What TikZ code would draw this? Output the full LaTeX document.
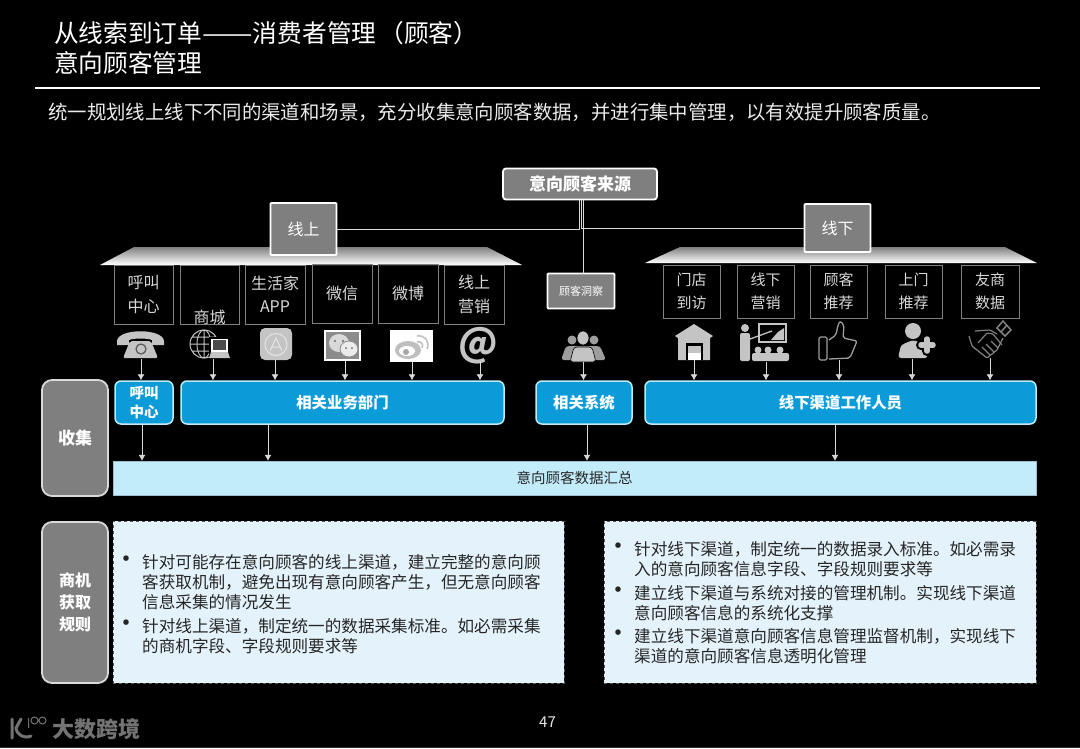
\documentclass[tikz,border=0pt]{standalone}
\usepackage{fontspec}
\setmainfont{Noto Sans CJK SC}
\usetikzlibrary{arrows,arrows.meta,calc}
\tikzset{>=latex}
\definecolor{slategrey}{HTML}{7F7F7F}
\definecolor{deptblue}{HTML}{0A9BD8}
\definecolor{deptedge}{HTML}{BDEBF7}
\definecolor{bandblue}{HTML}{C3ECFB}
\definecolor{noteblue}{HTML}{E4F3FB}
\definecolor{icongrey}{HTML}{C4C4C4}
\definecolor{chantext}{HTML}{D8D8D8}
\tikzset{
  sourcebox/.style={draw=white, line width=1.8pt, fill=slategrey, rounded corners=3pt, text=white, inner sep=0pt},
  sidebox/.style={draw=white!85!black, line width=1.8pt, fill=slategrey, rounded corners=10pt, text=white, inner sep=0pt, align=center},
  chanbox/.style={draw=white!50!black, line width=0.7pt, text=chantext, inner sep=0pt, align=center},
  deptbox/.style={draw=deptedge, line width=1.5pt, fill=deptblue, rounded corners=6pt, text=white, inner sep=0pt, align=center},
  notebox/.style={draw=black!65, dashed, line width=0.7pt, fill=noteblue, inner sep=0pt},
  notetext/.style={anchor=north west, align=left, inner sep=0pt, text=black!85},
  linkline/.style={draw=white!85!black, line width=0.8pt},
  linkarrow/.style={linkline, -{Latex[length=6pt,width=7pt]}}
}
\newcommand{\notebullet}[3]{
   \node[text=black!85, inner sep=0pt, font=\fontsize{26}{26}\selectfont] (#1) at ($(#2)+(0,8)$) {•};
   \node[notetext, font=\fontsize{16.6}{20}\selectfont] (#1text) at ($(#2)+(16,0)$) {#3};
}

\begin{document}
\begin{tikzpicture}[x=1pt,y=-1pt]
	\fill[black] (0,0) rectangle (1080,748);
	\useasboundingbox (0,0) rectangle (1080,748);
	\fill[black!80] (0,746.5) rectangle (1080,748);

	% Heading
	\node[anchor=west, text=white, inner sep=0pt, font=\fontsize{24.7}{25}\selectfont] (titleone) at (54,33) {从线索到订单\scalebox{1.22}[1]{——}消费者管理\hspace{3pt}（顾客）};
	\node[anchor=west, text=white, inner sep=0pt, font=\fontsize{24.7}{25}\selectfont] (titletwo) at (54,63) {意向顾客管理};
	\draw[white, line width=1.2pt] (35,88) -- (1040,88);
	\node[anchor=west, text=white!92!black, inner sep=0pt, font=\fontsize{19.4}{20}\selectfont] (subtitle) at (48,112) {统一规划线上线下不同的渠道和场景，充分收集意向顾客数据，并进行集中管理，以有效提升顾客质量。};

	% Roofs
	\shade[top color=black!50, bottom color=white] (100,265) -- (134,247) -- (487,247) -- (522,265) -- cycle;
	\shade[top color=black!50, bottom color=white] (645,263) -- (680,247) -- (1005,247) -- (1037,263) -- cycle;

	% Sources
	\node[sourcebox, minimum width=154pt, minimum height=31pt, font=\fontsize{17}{20}\selectfont\bfseries] (source) at (580,184) {意向顾客来源};
	\node[sourcebox, rounded corners=1pt, minimum width=66pt, minimum height=52pt, font=\fontsize{16}{20}\selectfont] (online) at (303.5,229) {线上};
	\node[sourcebox, rounded corners=1pt, minimum width=66pt, minimum height=48pt, font=\fontsize{16}{20}\selectfont] (offline) at (837.5,228) {线下};
	\node[sourcebox, rounded corners=1pt, minimum width=67pt, minimum height=35pt, font=\fontsize{11}{13}\selectfont] (insight) at (581,291) {顾客洞察};

	% Channels, online
	\node[chanbox, minimum width=59pt, minimum height=59pt, font=\fontsize{16}{23.5}\selectfont] (callchan) at (143.5,294.5) {呼叫\\中心};
	\node[chanbox, minimum width=59pt, minimum height=59pt] (mallchan) at (209.5,294.5) {};
	\node[text=chantext, inner sep=0pt, font=\fontsize{16}{20}\selectfont] (malltext) at (209.5,317) {商城};
	\node[chanbox, minimum width=60pt, minimum height=59pt, font=\fontsize{16}{23}\selectfont] (appchan) at (275,294.5) {生活家\\APP};
	\node[chanbox, minimum width=60pt, minimum height=59pt, font=\fontsize{16}{20}\selectfont] (wechatchan) at (342,293.5) {微信};
	\node[chanbox, minimum width=60pt, minimum height=59pt, font=\fontsize{16}{20}\selectfont] (weibochan) at (408,293.5) {微博};
	\node[chanbox, minimum width=60pt, minimum height=59pt, font=\fontsize{16}{23.5}\selectfont] (webchan) at (474,294.5) {线上\\营销};

	% Channels, offline
	\node[chanbox, minimum width=57pt, minimum height=53pt, font=\fontsize{15}{23}\selectfont] (storechan) at (691.5,291.5) {门店\\到访};
	\node[chanbox, minimum width=57pt, minimum height=53pt, font=\fontsize{15}{23}\selectfont] (eventchan) at (765.5,291.5) {线下\\营销};
	\node[chanbox, minimum width=57pt, minimum height=53pt, font=\fontsize{15}{23}\selectfont] (referchan) at (838.5,291.5) {顾客\\推荐};
	\node[chanbox, minimum width=57pt, minimum height=53pt, font=\fontsize{15}{23}\selectfont] (visitchan) at (913.5,291.5) {上门\\推荐};
	\node[chanbox, minimum width=58pt, minimum height=53pt, font=\fontsize{15}{23}\selectfont] (partnerchan) at (990,291.5) {友商\\数据};

	% Departments
	\node[deptbox, minimum width=58pt, minimum height=43pt, font=\fontsize{14.5}{19}\selectfont\bfseries] (calldept) at (144,402.5) {呼叫\\中心};
	\node[deptbox, minimum width=323pt, minimum height=43pt, font=\fontsize{15.4}{19}\selectfont\bfseries] (bizdept) at (342.5,402.5) {相关业务部门};
	\node[deptbox, minimum width=96pt, minimum height=43pt, font=\fontsize{15.4}{19}\selectfont\bfseries] (sysdept) at (584,402.5) {相关系统};
	\node[deptbox, minimum width=391pt, minimum height=43pt, font=\fontsize{15.4}{19}\selectfont\bfseries] (staffdept) at (840.5,402.5) {线下渠道工作人员};

	% Side labels
	\node[sidebox, minimum width=66pt, minimum height=116pt, font=\fontsize{17}{20}\selectfont\bfseries] (collect) at (75,438) {收集};
	\node[sidebox, minimum width=66pt, minimum height=161pt, font=\fontsize{16}{22}\selectfont\bfseries] (rules) at (75,602.5) {商机\\获取\\规则};

	% Band and notes
	\node[fill=bandblue, draw=bandblue!80!black, line width=0.4pt, minimum width=923pt, minimum height=34pt, inner sep=0pt, text=black!85, font=\fontsize{14.5}{16}\selectfont] (band) at (574.5,478) {意向顾客数据汇总};
	\node[notebox, minimum width=451pt, minimum height=162pt] (noteleft) at (338.5,602) {};
	\node[notebox, minimum width=432pt, minimum height=162pt] (noteright) at (820,602) {};

	\notebullet{leftone}{126,554}{针对可能存在意向顾客的线上渠道，建立完整的意向顾\\客获取机制，避免出现有意向顾客产生，但无意向顾客\\信息采集的情况发生}
	\notebullet{lefttwo}{126,618}{针对线上渠道，制定统一的数据采集标准。如必需采集\\的商机字段、字段规则要求等}
	\notebullet{rightone}{618,541.5}{针对线下渠道，制定统一的数据录入标准。如必需录\\入的意向顾客信息字段、字段规则要求等}
	\notebullet{righttwo}{618,585.5}{建立线下渠道与系统对接的管理机制。实现线下渠道\\意向顾客信息的系统化支撑}
	\notebullet{rightthree}{618,628.5}{建立线下渠道意向顾客信息管理监督机制，实现线下\\渠道的意向顾客信息透明化管理}

	% Icons: telephone
	\fill[icongrey] (117,341) .. controls (118,328) and (163,328) .. (164,341) -- (164,345) -- (152,345) -- (152,340) .. controls (148,338) and (133,338) .. (129,340) -- (129,345) -- (117,345) -- cycle;
	\fill[icongrey, rounded corners=2pt] (130,341) -- (151,341) -- (158,358) -- (123,358) -- cycle;
	\draw[black!65, line width=1.2pt] (141,349) circle (5pt);
	% globe and laptop
	\draw[icongrey, line width=1pt] (204,344) circle (14pt) (204,330) -- (204,358) (190,344) -- (218,344) (192,337) -- (216,337) (192,351) -- (216,351);
	\draw[icongrey, line width=0.9pt] (204,344) ellipse (7pt and 14pt);
	\fill[black] (209,337) rectangle (231,359);
	\draw[white, line width=1.2pt, fill=black!70] (212,339.5) rectangle (227,351);
	\fill[icongrey] (211,352) -- (228,352) -- (230,358) -- (209,358) -- cycle;
	% app store
	\fill[icongrey, rounded corners=5pt] (260,328) rectangle (292,360);
	\draw[white!90!black, line width=1pt] (276,344.5) circle (11pt) (270,351) -- (276,338) -- (282,351) (272,347) -- (280,347);
	% wechat
	\fill[white] (324,330) rectangle (361,361);
	\fill[black!45] (326,332) rectangle (359,359);
	\fill[white!85!black] (339,343) ellipse (10pt and 9pt);
	\draw[black!45, fill=white!92!black, line width=0.8pt] (349,349) ellipse (9pt and 8pt);
	\fill[black!60] (335,341) circle (1.2pt) (343,341) circle (1.2pt) (346,348) circle (1pt) (352,348) circle (1pt);
	% weibo
	\fill[white] (390,330) rectangle (433,362);
	\fill[black!25] (408,350) ellipse (13pt and 9pt);
	\fill[white] (407,351) ellipse (8pt and 5pt);
	\fill[black!35] (406,352) circle (3pt);
	\draw[black!25, line width=1.5pt] (417,336) .. controls (425,335) and (430,341) .. (427,349) (417,342) .. controls (421,341) and (424,344) .. (422,348);
	% at sign
	\node[text=icongrey, inner sep=0pt, font=\fontsize{38}{38}\selectfont\bfseries] (atsign) at (478.5,346) {@};
	% audience
	\fill[icongrey!80!black] (572,340) circle (4.5pt) (594,340) circle (4.5pt);
	\fill[icongrey!80!black, rounded corners=3pt] (561,360) -- (566,346) -- (600,346) -- (606,360) -- cycle;
	\draw[black, line width=0.6pt, fill=icongrey] (583,338) ellipse (6pt and 7pt);
	\draw[black, line width=0.6pt, fill=icongrey, rounded corners=3pt] (570,362) -- (574,347) -- (592,347) -- (596,362) -- cycle;
	% warehouse
	\fill[icongrey] (675,336) -- (694,324) -- (713,336) -- (710,338) -- (710,360) -- (678,360) -- (678,338) -- cycle;
	\fill[black] (686,343) rectangle (703,360);
	\fill[icongrey] (688,346) rectangle (701,353);
	\fill[white] (688,353) rectangle (701,360);
	% trainer
	\fill[icongrey] (745,328) circle (4pt);
	\fill[icongrey, rounded corners=2pt] (740,333) rectangle (750,361);
	\draw[icongrey, line width=1.3pt] (750,339) -- (772,331);
	\draw[icongrey, line width=1.6pt] (759,324) rectangle (786,342);
	\fill[icongrey] (771,340) -- (778,332) -- (784,328) -- (784,340) -- cycle;
	\fill[icongrey] (758,350) circle (3.5pt) (768,350) circle (3.5pt) (780,350) circle (3.5pt);
	\fill[icongrey, rounded corners=2pt] (752,353) rectangle (789,361);
	% thumb
	\draw[icongrey!80!black, line width=1.3pt, rounded corners=1.5pt] (819,337) rectangle (827,360);
	\draw[icongrey!80!black, line width=1.3pt, rounded corners=2pt] (829,340) -- (836,335) -- (838,325) -- (840,321) -- (844,325) -- (843,338) -- (857,341) -- (850,358) -- (829,359);
	% person plus
	\fill[icongrey] (913,331) circle (8pt);
	\fill[icongrey, rounded corners=3pt] (898,358) -- (901,345) -- (913,340) -- (925,344) -- (928,358) -- cycle;
	\draw[black, line width=10pt, line cap=round] (921,345) -- (933,345) (927,339) -- (927,351);
	\draw[icongrey, line width=5.5pt, line cap=round] (921,345) -- (933,345) (927,339) -- (927,351);
	% handshake
	\draw[black!50, line width=1.2pt, rounded corners=1pt] (969,336) -- (972,346) -- (987,358) -- (997,350) -- (1003,338);
	\draw[black!50, line width=1.2pt, rounded corners=1pt] (975,331) -- (990,330) -- (997,334) (978,343) -- (987,333) -- (993,334) -- (1002,345);
	\draw[black!50, line width=1.2pt] (982,347) -- (990,355) (986,344) -- (994,352) (991,341) -- (998,348);
	\draw[black!50, line width=1.5pt] (997,328) -- (1003,321) -- (1011,330) -- (1005,336) -- cycle (1001,332) -- (1007,325);

	% Icon ends of the arrows
	\coordinate (phoneicon) at (141,359);
	\coordinate (globeicon) at (213,359);
	\coordinate (appicon) at (275,360);
	\coordinate (wechaticon) at (345,361);
	\coordinate (weiboicon) at (412,362);
	\coordinate (aticon) at (480,362);
	\coordinate (crowdicon) at (583.5,362);
	\coordinate (houseicon) at (694,360);
	\coordinate (trainicon) at (766,362);
	\coordinate (thumbicon) at (839,360);
	\coordinate (plusicon) at (912,359);
	\coordinate (shakeicon) at (990,358);

	% Links
	\draw[linkline] (online.east) -| ([xshift=-1pt]source.south);
	\draw[linkline] (offline.west) -| ([xshift=1pt]source.south);
	\draw[linkline] ([xshift=3.5pt]source.south) -- ([xshift=2.5pt]insight.north);

	\draw[linkarrow] (phoneicon) -- (phoneicon |- calldept.north);
	\draw[linkarrow] (globeicon) -- (globeicon |- bizdept.north);
	\draw[linkarrow] (appicon) -- (appicon |- bizdept.north);
	\draw[linkarrow] (wechaticon) -- (wechaticon |- bizdept.north);
	\draw[linkarrow] (weiboicon) -- (weiboicon |- bizdept.north);
	\draw[linkarrow] (aticon) -- (aticon |- bizdept.north);
	\draw[linkarrow] (crowdicon) -- (crowdicon |- sysdept.north);
	\draw[linkarrow] (houseicon) -- (houseicon |- staffdept.north);
	\draw[linkarrow] (trainicon) -- (trainicon |- staffdept.north);
	\draw[linkarrow] (thumbicon) -- (thumbicon |- staffdept.north);
	\draw[linkarrow] (plusicon) -- (plusicon |- staffdept.north);
	\draw[linkarrow] (shakeicon) -- (shakeicon |- staffdept.north);

	\draw[linkarrow] ([xshift=-2pt]calldept.south) -- ([xshift=-2pt]calldept.south |- band.north);
	\draw[linkarrow] ([xshift=-74.5pt]bizdept.south) -- ([xshift=-74.5pt]bizdept.south |- band.north);
	\draw[linkarrow] ([xshift=3pt]sysdept.south) -- ([xshift=3pt]sysdept.south |- band.north);
	\draw[linkarrow] ([xshift=-5.5pt]staffdept.south) -- ([xshift=-5.5pt]staffdept.south |- band.north);

	% Footer
	\draw[black!55, line width=3pt, line cap=round] (12,719) -- (12,738) (21,719) -- (16,728) .. controls (17,735) and (24,739) .. (31,736);
	\draw[black!55, line width=1pt] (28.5,718) -- (28.5,728) (34.5,720.5) circle (3.5pt) (42.5,720.5) circle (3.5pt);
	\node[anchor=west, text=black!55, inner sep=0pt, font=\fontsize{22}{22}\selectfont\bfseries] (brand) at (52,729) {大数跨境};
	\node[text=white!90!black, inner sep=0pt, font=\fontsize{15}{15}\selectfont] (pagenum) at (547.5,722) {47};
\end{tikzpicture}
\end{document}
